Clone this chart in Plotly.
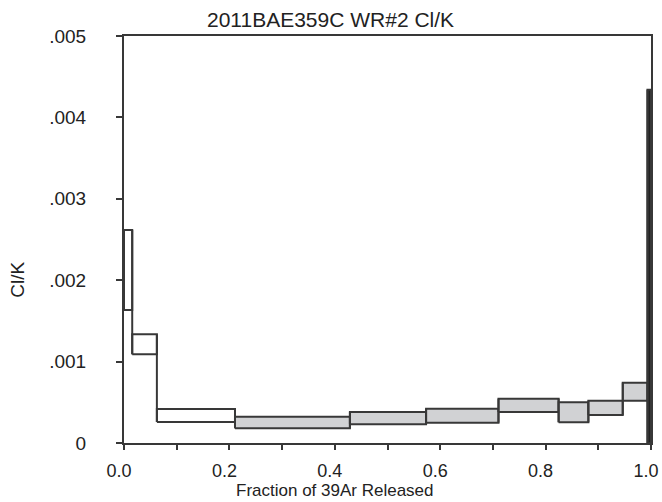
import plotly.graph_objects as go

# Step data: cumulative fraction of 39Ar released (edges) and Cl/K error box (low, high)
frac_edges = [0.0, 0.0156, 0.0624, 0.2106, 0.4287, 0.5732, 0.7106, 0.8247, 0.8812, 0.9464, 0.9933, 1.0]
clk_low = [0.001634, 0.00109, 0.000258, 0.000181, 0.000230, 0.000249, 0.000381, 0.000254, 0.000344, 0.000520, 0.0]
clk_high = [0.002617, 0.001335, 0.000418, 0.000323, 0.000381, 0.000421, 0.000544, 0.000500, 0.000520, 0.000741, 0.00434]
step_fill = ["white", "white", "white", "#d1d2d4", "#d1d2d4", "#d1d2d4", "#d1d2d4",
             "#d1d2d4", "#d1d2d4", "#d1d2d4", "#222222"]

y_tickvals = [0, 0.001, 0.002, 0.003, 0.004, 0.005]
y_ticktext = ["0", ".001", ".002", ".003", ".004", ".005"]
x_tickvals = [0.0, 0.1, 0.2, 0.3, 0.4, 0.5, 0.6, 0.7, 0.8, 0.9, 1.0]
x_ticktext = ["0.0", "", "0.2", "", "0.4", "", "0.6", "", "0.8", "", "1.0"]

title_text = "2011BAE359C WR#2 Cl/K"
x_title = "Fraction of 39Ar Released"
y_title = "Cl/K"

FONT = "Liberation Sans, Arial, sans-serif"
LINE = "#383838"

fig = go.Figure()
for i in range(len(clk_low)):
    x0, x1 = frac_edges[i], frac_edges[i + 1]
    lo, hi = clk_low[i], clk_high[i]
    fig.add_trace(go.Scatter(
        x=[x0, x1, x1, x0, x0],
        y=[lo, lo, hi, hi, lo],
        mode="lines",
        fill="toself",
        fillcolor=step_fill[i],
        line=dict(color=LINE, width=2),
        hoverinfo="skip",
        showlegend=False,
    ))

# vertical connectors between adjacent steps
cx, cy = [], []
for i in range(1, len(clk_low)):
    e = frac_edges[i]
    cx += [e, e, None]
    cy += [min(clk_low[i - 1], clk_low[i]), max(clk_high[i - 1], clk_high[i]), None]
fig.add_trace(go.Scatter(x=cx, y=cy, mode="lines", line=dict(color=LINE, width=2),
                         hoverinfo="skip", showlegend=False))

fig.update_layout(
    width=662, height=502,
    margin=dict(l=124, r=11, t=36, b=59, autoexpand=False),
    plot_bgcolor="white", paper_bgcolor="white",
    font=dict(family=FONT, size=19, color="#222222"),
    showlegend=False,
)
fig.update_xaxes(
    range=[0, 1], tickvals=x_tickvals, ticktext=x_ticktext,
    showgrid=False, zeroline=False, automargin=False,
    showline=True, linecolor=LINE, linewidth=2, mirror=True,
    ticks="outside", ticklen=5, tickwidth=2, tickcolor=LINE,
    ticklabelstandoff=5, ticklabelshift=-5, ticklabeloverflow="allow",
    tickfont=dict(size=18),
)
fig.update_yaxes(
    range=[0, 0.005], tickvals=y_tickvals, ticktext=y_ticktext,
    showgrid=False, zeroline=False, automargin=False,
    showline=True, linecolor=LINE, linewidth=2, mirror=True,
    ticks="outside", ticklen=6, tickwidth=2, tickcolor=LINE,
    ticklabelstandoff=26,
)
fig.add_annotation(text=title_text, xref="paper", yref="paper",
                   x=(330 - 124) / 526, y=1 + (36 - 20) / 407,
                   showarrow=False, xanchor="center", yanchor="middle",
                   font=dict(size=21))
fig.add_annotation(text=x_title, xref="paper", yref="paper",
                   x=(335 - 124) / 526, y=-(490 - 443) / 407,
                   showarrow=False, xanchor="center", yanchor="middle",
                   font=dict(size=17))
fig.add_annotation(text=y_title, xref="paper", yref="paper",
                   x=-(124 - 17) / 526, y=(443 - 280) / 407,
                   showarrow=False, xanchor="center", yanchor="middle",
                   textangle=-90, font=dict(size=19))

fig.write_html("out.html")
